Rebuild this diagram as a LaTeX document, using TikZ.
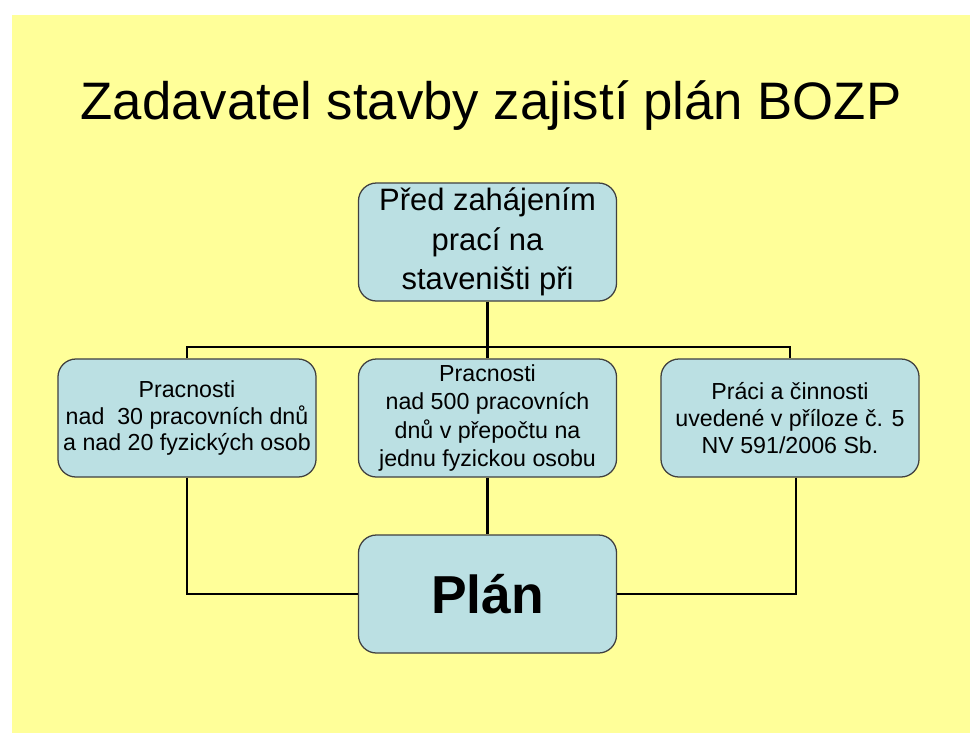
\documentclass[tikz,border=0pt]{standalone}
\usepackage{fontspec}
\setmainfont{Liberation Sans}
\usepackage{tikz}
\usetikzlibrary{positioning,calc}
\definecolor{slideyellow}{HTML}{FFFF99}
\definecolor{boxblue}{HTML}{BBE0E3}
\tikzstyle{box}=[rectangle, rounded corners=0.45cm, draw=black!75, line width=0.9pt, fill=boxblue, align=center, minimum width=6.45cm, minimum height=2.95cm, inner sep=1pt]
\tikzstyle{small}=[font=\fontsize{16.5}{19}\selectfont]
\tikzstyle{link}=[line width=1.7pt, black]

\begin{document}
\begin{tikzpicture}[x=0.025cm,y=-0.025cm]
		\useasboundingbox(0,0)rectangle(970,733);
		\fill[slideyellow](12,15)rectangle(970,733);
		\node(title)at(491,106){\fontsize{37.5}{44}\selectfont Zadavatel stavby zajistí plán BOZP};
		\node[box,font=\fontsize{22}{28}\selectfont](top)at(487.5,242){Před zahájením\\ prací na\\ staveništi při};
		\node[box,small](left)at(187,418){Pracnosti\\ nad\ \ 30 pracovních dnů\\ a nad 20 fyzických osob};
		\node[box,small,font=\fontsize{16.5}{20}\selectfont](mid)at(487.5,418){Pracnosti\\ nad 500 pracovních\\ dnů v přepočtu na\\ jednu fyzickou osobu};
		\node[box,small](right)at(790,418){Práci a činnosti\\ uvedené v příloze č. 5\\ NV 591/2006 Sb.};
		\node[box,font=\bfseries\fontsize{38}{44}\selectfont](plan)at(487.5,594){Plán};
		\coordinate(bus)at(487.5,347);
		\draw[link](top)--(bus);
		\draw[link](left.north)|-(bus)-|(right.north);
		\draw[link](bus)--(mid);
		\draw[link](mid)--(plan);
		\draw[link](left.south)|-(plan.west);
		\draw[link]([xshift=0.15cm]right.south)|-(plan.east);
\end{tikzpicture}
\end{document}
